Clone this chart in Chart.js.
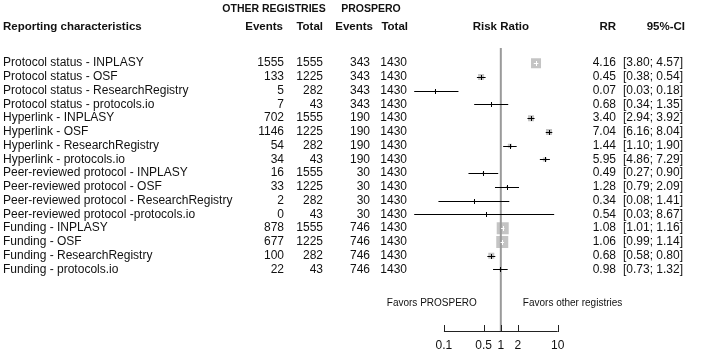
<!DOCTYPE html>
<html lang="en">
<head>
    <meta charset="UTF-8">
    <title>Forest plot - other registries vs PROSPERO</title>
    <script src="https://cdn.jsdelivr.net/npm/chart.js"></script>
    <style>
        html, body { margin: 0; padding: 0; background: #fff; }
        #wrap { width: 708px; height: 356px; }
    </style>
</head>
<body>
    <div id="wrap"><canvas id="forestChart" width="708" height="356"></canvas></div>

    <script>
        // rows of the table
        const labels = [
            'Protocol status - INPLASY', 'Protocol status - OSF', 'Protocol status - ResearchRegistry', 'Protocol status - protocols.io',
            'Hyperlink - INPLASY', 'Hyperlink - OSF', 'Hyperlink - ResearchRegistry', 'Hyperlink - protocols.io',
            'Peer-reviewed protocol - INPLASY', 'Peer-reviewed protocol - OSF', 'Peer-reviewed protocol - ResearchRegistry', 'Peer-reviewed protocol -protocols.io',
            'Funding - INPLASY', 'Funding - OSF', 'Funding - ResearchRegistry', 'Funding - protocols.io'
        ];
        const otherEvents = [1555, 133, 5, 7, 702, 1146, 54, 34, 16, 33, 2, 0, 878, 677, 100, 22];
        const otherTotal = [1555, 1225, 282, 43, 1555, 1225, 282, 43, 1555, 1225, 282, 43, 1555, 1225, 282, 43];
        const prosEvents = [343, 343, 343, 343, 190, 190, 190, 190, 30, 30, 30, 30, 746, 746, 746, 746];
        const prosTotal = [1430, 1430, 1430, 1430, 1430, 1430, 1430, 1430, 1430, 1430, 1430, 1430, 1430, 1430, 1430, 1430];
        const rr = [4.16, 0.45, 0.07, 0.68, 3.40, 7.04, 1.44, 5.95, 0.49, 1.28, 0.34, 0.54, 1.08, 1.06, 0.68, 0.98];
        const ciLow = [3.80, 0.38, 0.03, 0.34, 2.94, 6.16, 1.10, 4.86, 0.27, 0.79, 0.08, 0.03, 1.01, 0.99, 0.58, 0.73];
        const ciHigh = [4.57, 0.54, 0.18, 1.35, 3.92, 8.04, 1.90, 7.29, 0.90, 2.09, 1.41, 8.67, 1.16, 1.14, 0.80, 1.32];
        // relative weights (box area)
        const weight = [100, 36, 1, 1, 36, 36, 16, 16, 4, 4, 1, 1, 144, 144, 36, 4];
        // x axis ticks
        const tickValues = [0.1, 0.5, 1, 2, 10];
        const tickLabels = ['0.1', '0.5', '1', '2', '10'];

        const FONT = '"Liberation Sans", Arial, sans-serif';
        const boxSide = weight.map(w => Math.sqrt(w));

        // table text, reference line, CI lines and bottom axis
        const forestPlugin = {
            id: 'forest',
            afterDatasetsDraw(chart) {
                const ctx = chart.ctx;
                const xs = chart.scales.x;
                const ys = chart.scales.y;
                ctx.save();

                // headers
                ctx.fillStyle = '#111';
                ctx.textBaseline = 'middle';
                ctx.font = 'bold 10.5px ' + FONT;
                ctx.textAlign = 'center';
                ctx.fillText('OTHER REGISTRIES', 274, 9);
                ctx.fillText('PROSPERO', 371, 9);
                ctx.font = 'bold 11.5px ' + FONT;
                ctx.textAlign = 'left';
                ctx.fillText('Reporting characteristics', 3, 27);
                ctx.textAlign = 'right';
                ctx.fillText('Events', 283, 27);
                ctx.fillText('Total', 323, 27);
                ctx.fillText('Events', 373, 27);
                ctx.fillText('Total', 408, 27);
                ctx.fillText('RR', 616, 27);
                ctx.fillText('95%-CI', 685, 27);
                ctx.textAlign = 'center';
                ctx.fillText('Risk Ratio', xs.getPixelForValue(1), 27);

                // rows
                ctx.font = '12px ' + FONT;
                labels.forEach((lab, i) => {
                    const y = ys.getPixelForValue(i);
                    ctx.textAlign = 'left';
                    ctx.fillText(lab, 3, y);
                    ctx.textAlign = 'right';
                    ctx.fillText(String(otherEvents[i]), 284, y);
                    ctx.fillText(String(otherTotal[i]), 323, y);
                    ctx.fillText(String(prosEvents[i]), 370, y);
                    ctx.fillText(String(prosTotal[i]), 407, y);
                    ctx.fillText(rr[i].toFixed(2), 616, y);
                    ctx.textAlign = 'left';
                    ctx.fillText('[' + ciLow[i].toFixed(2) + '; ' + ciHigh[i].toFixed(2) + ']', 623, y);
                });

                // reference line at RR = 1
                const x1 = xs.getPixelForValue(1);
                const axisY = 331;
                ctx.strokeStyle = '#9a9a9a';
                ctx.lineWidth = 2;
                ctx.beginPath();
                ctx.moveTo(x1, 48);
                ctx.lineTo(x1, axisY);
                ctx.stroke();

                // confidence intervals
                ctx.lineWidth = 1;
                labels.forEach((lab, i) => {
                    const y = Math.round(ys.getPixelForValue(i)) + 0.5;
                    const xe = xs.getPixelForValue(rr[i]);
                    const xl = xs.getPixelForValue(ciLow[i]);
                    const xh = xs.getPixelForValue(ciHigh[i]);
                    const half = boxSide[i] / 2;
                    const inside = xl >= xe - half && xh <= xe + half;
                    ctx.strokeStyle = inside ? '#fff' : '#000';
                    ctx.beginPath();
                    ctx.moveTo(xl, y);
                    ctx.lineTo(xh, y);
                    ctx.moveTo(Math.round(xe) + 0.5, y - 2.5);
                    ctx.lineTo(Math.round(xe) + 0.5, y + 2.5);
                    ctx.stroke();
                });

                // bottom axis, ticks pointing up
                const xa = xs.getPixelForValue(tickValues[0]);
                const xb = xs.getPixelForValue(tickValues[tickValues.length - 1]);
                ctx.strokeStyle = '#222';
                ctx.lineWidth = 1;
                ctx.beginPath();
                ctx.moveTo(xa, axisY + 0.5);
                ctx.lineTo(xb, axisY + 0.5);
                tickValues.forEach(v => {
                    const tx = Math.round(xs.getPixelForValue(v)) + 0.5;
                    ctx.moveTo(tx, axisY + 1);
                    ctx.lineTo(tx, axisY - 6);
                });
                ctx.stroke();
                ctx.fillStyle = '#111';
                ctx.font = '12px ' + FONT;
                ctx.textAlign = 'center';
                tickValues.forEach((v, k) => {
                    ctx.fillText(tickLabels[k], xs.getPixelForValue(v), 346);
                });

                // favours labels
                ctx.font = '10px ' + FONT;
                ctx.textAlign = 'right';
                ctx.fillText('Favors PROSPERO', x1 - 24, 303);
                ctx.textAlign = 'left';
                ctx.fillText('Favors other registries', x1 + 22, 303);

                ctx.restore();
            }
        };

        const points = rr.map((v, i) => ({ x: v, y: i }));

        new Chart(document.getElementById('forestChart').getContext('2d'), {
            type: 'scatter',
            data: {
                datasets: [{
                    label: 'Risk Ratio',
                    data: points,
                    pointStyle: 'rect',
                    pointRadius: boxSide.map(s => s / Math.SQRT2),
                    backgroundColor: '#c4c4c4',
                    borderWidth: 0
                }]
            },
            options: {
                responsive: false,
                animation: false,
                layout: { padding: { left: 404.2, right: 140.3, top: 0, bottom: 0 } },
                scales: {
                    x: { type: 'logarithmic', min: 0.02, max: 15, display: false },
                    y: { type: 'linear', min: -3.975, max: 20.68, reverse: true, display: false }
                },
                plugins: {
                    legend: { display: false },
                    tooltip: { enabled: false }
                }
            },
            plugins: [forestPlugin]
        });
    </script>
</body>
</html>
